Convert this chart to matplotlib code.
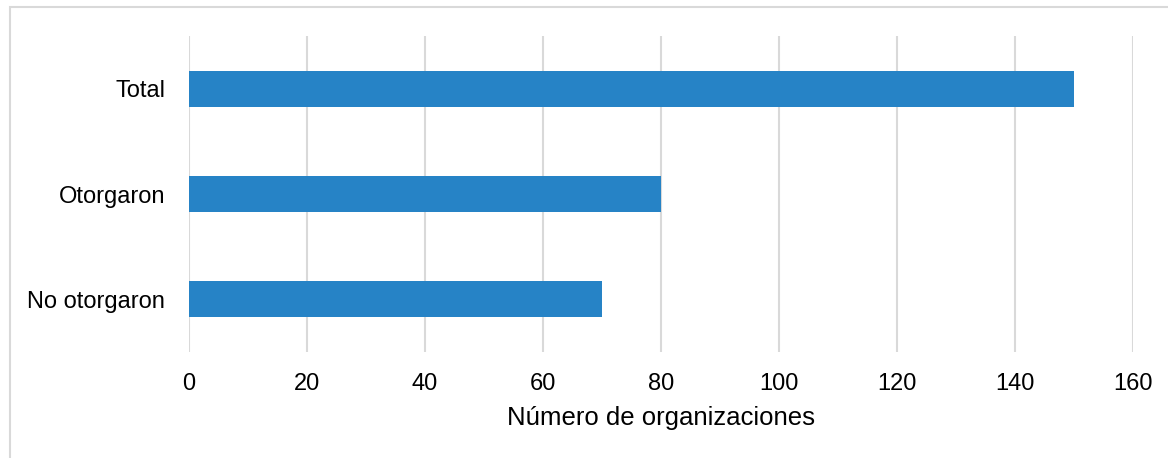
import matplotlib.pyplot as plt
from matplotlib.patches import Rectangle

categories = ["No otorgaron", "Otorgaron", "Total"]
values = [70, 80, 150]
xticks = [0, 20, 40, 60, 80, 100, 120, 140, 160]

plt.rcParams['font.family'] = ['Liberation Sans', 'DejaVu Sans']

fig = plt.figure(figsize=(11.68, 4.58), dpi=100)
ax = fig.add_axes([0.1618, 0.2314, 0.8082, 0.69])

# Bars
ax.barh(range(len(categories)), values, height=0.34, color='#2683C6', zorder=3)

ax.set_xlim(0, 160)
ax.set_ylim(-0.5, 2.5)
ax.set_xticks(xticks)
ax.set_yticks(range(len(categories)))
ax.set_yticklabels(categories)

# Grid and styling
ax.grid(axis='x', color='#D9D9D9', linewidth=1.5, zorder=0)
for s in ax.spines.values():
    s.set_visible(False)
ax.tick_params(axis='x', length=0, pad=15, labelsize=17, colors='#000000')
ax.tick_params(axis='y', length=0, pad=17, labelsize=17, colors='#000000')
ax.set_xlabel("Número de organizaciones", fontsize=18.5, labelpad=8)

# Chart border
fig.patches.append(Rectangle((10 / 1168, -0.1), 1.2, 1 - 7 / 458 + 0.1,
                             transform=fig.transFigure, fill=False,
                             edgecolor='#D9D9D9', linewidth=1.5))

fig.savefig("out.png", dpi=100)
